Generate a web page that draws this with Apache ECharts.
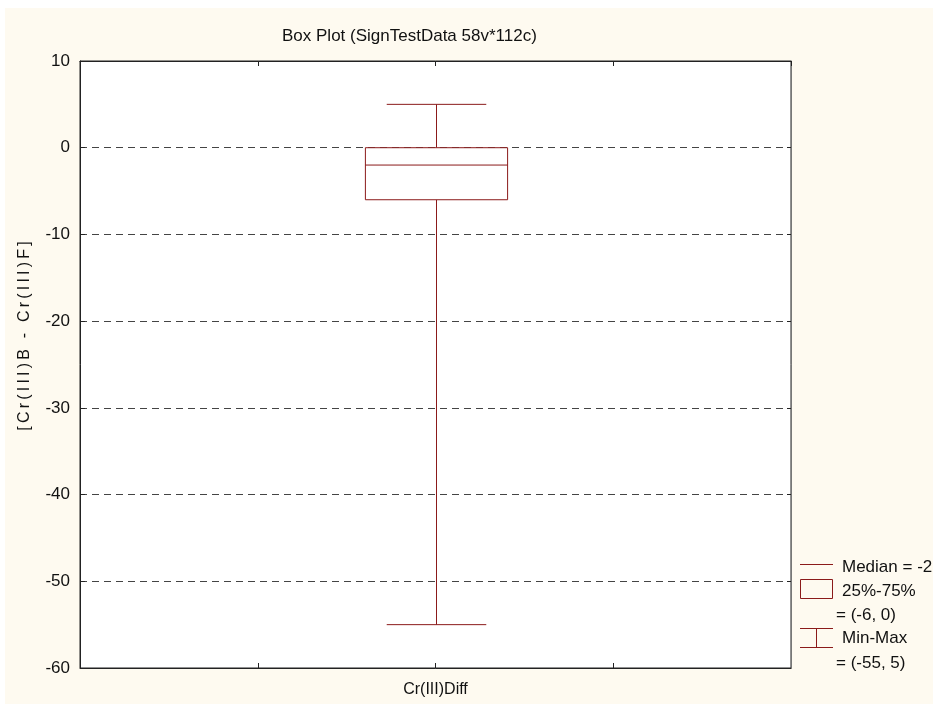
<!DOCTYPE html>
<html><head><meta charset="utf-8">
<script src="https://cdn.jsdelivr.net/npm/echarts@6/dist/echarts.min.js"></script>
<style>html,body{margin:0;padding:0;background:#fff}#c{width:933px;height:704px}</style>
</head><body><div id="c"></div>
<script>
const chartTitle = 'Box Plot (SignTestData 58v*112c)';
const categories = ['Cr(III)Diff'];
const minValues = [-55];
const q1Values = [-6];
const medianValues = [-2];
const q3Values = [0];
const maxValues = [5];
const yTickValues = [-60, -50, -40, -30, -20, -10, 0, 10];
const yAxisTitle = '[Cr(III)B - Cr(III)F]';
const legendLabels = ['Median = ' + medianValues[0], '25%-75%', '= (' + q1Values[0] + ', ' + q3Values[0] + ')', 'Min-Max', '= (' + minValues[0] + ', ' + maxValues[0] + ')'];

const RED = '#8b1a1a';
const CREAM = '#fefaf0';
const FONT = '"Liberation Sans", Arial, sans-serif';
const spaced = s => s.split('').join('\u2009');

// x slot: the single category sits in the middle of a 0..4 axis
const boxData = categories.map((c, i) => [2 + i, minValues[i], q1Values[i], medianValues[i], q3Values[i], maxValues[i]]);

const chart = echarts.init(document.getElementById('c'));
chart.setOption({
  backgroundColor: CREAM,
  animation: false,
  title: {
    text: chartTitle, left: 277, top: 23,
    textStyle: { fontFamily: FONT, fontSize: 17, fontWeight: 'normal', color: '#111' }
  },
  grid: { left: 80, right: 142, top: 61, bottom: 36, show: true, backgroundColor: '#fff', borderColor: '#222', borderWidth: 1 },
  xAxis: [{
    type: 'value', min: 0, max: 4, interval: 1, position: 'bottom',
    axisLine: { show: true, onZero: false, lineStyle: { color: '#222' } },
    axisTick: { show: true, inside: true, length: 5, lineStyle: { color: '#222' } },
    splitLine: { show: false },
    axisLabel: {
      showMinLabel: false, showMaxLabel: false, margin: 14,
      fontFamily: FONT, fontSize: 16, color: '#111',
      formatter: v => (v >= 2 && v - 2 < categories.length && Number.isInteger(v)) ? categories[v - 2] : ''
    }
  }, {
    type: 'value', min: 0, max: 4, interval: 1, position: 'top',
    axisLine: { show: true, onZero: false, lineStyle: { color: '#222' } },
    axisTick: { show: true, inside: true, length: 5, lineStyle: { color: '#222' } },
    splitLine: { show: false }, axisLabel: { show: false }
  }],
  yAxis: [{
    type: 'value', min: yTickValues[0], max: yTickValues[yTickValues.length - 1], interval: 10,
    axisLine: { show: true, onZero: false, lineStyle: { color: '#222' } },
    axisTick: { show: true, inside: true, length: 5, lineStyle: { color: '#222' } },
    splitLine: { show: true, showMinLine: false, showMaxLine: false, lineStyle: { color: '#444', type: [7, 5], width: 1 } },
    axisLabel: { margin: 10, fontFamily: FONT, fontSize: 17, color: '#111' }
  }, {
    type: 'value', position: 'right', min: yTickValues[0], max: yTickValues[yTickValues.length - 1], interval: 10,
    axisLine: { show: true, onZero: false, lineStyle: { color: '#777' } },
    axisTick: { show: true, inside: true, length: 4, lineStyle: { color: '#222' } },
    splitLine: { show: false }, axisLabel: { show: false }
  }],
  series: [{
    type: 'custom',
    xAxisIndex: 0, yAxisIndex: 0,
    data: boxData,
    renderItem: function (params, api) {
      const x = api.value(0);
      const pMin = api.coord([x, api.value(1)]);
      const pQ1 = api.coord([x, api.value(2)]);
      const pMed = api.coord([x, api.value(3)]);
      const pQ3 = api.coord([x, api.value(4)]);
      const pMax = api.coord([x, api.value(5)]);
      const unit = api.size([1, 0])[0];
      const bw = unit * 0.8, cw = unit * 0.56;
      const cx = Math.round(pMed[0]) + 0.5;
      const st = { stroke: RED, lineWidth: 1, fill: null };
      return {
        type: 'group',
        children: [
          { type: 'line', shape: { x1: cx, y1: pMax[1], x2: cx, y2: pQ3[1] }, style: st },
          { type: 'line', shape: { x1: cx, y1: pQ1[1], x2: cx, y2: pMin[1] }, style: st },
          { type: 'line', shape: { x1: cx - cw / 2, y1: pMax[1], x2: cx + cw / 2, y2: pMax[1] }, style: st },
          { type: 'line', shape: { x1: cx - cw / 2, y1: pMin[1], x2: cx + cw / 2, y2: pMin[1] }, style: st },
          { type: 'rect', shape: { x: cx - bw / 2, y: pQ3[1], width: bw, height: pQ1[1] - pQ3[1] }, style: { stroke: RED, lineWidth: 1, fill: '#fff' } },
          { type: 'line', shape: { x1: cx - bw / 2, y1: pMed[1], x2: cx + bw / 2, y2: pMed[1] }, style: st }
        ]
      };
    }
  }],
  graphic: [
    { type: 'rect', shape: { x: 0, y: 0, width: 933, height: 8 }, style: { fill: '#fff' }, silent: true },
    { type: 'rect', shape: { x: 0, y: 0, width: 5, height: 704 }, style: { fill: '#fff' }, silent: true },
    { type: 'text', x: 25, y: 336, rotation: Math.PI / 2,
      style: { text: spaced(yAxisTitle), fontFamily: FONT, fontSize: 16, fill: '#111', align: 'center', verticalAlign: 'middle' } },
    // legend
    { type: 'line', shape: { x1: 800, y1: 564.5, x2: 833, y2: 564.5 }, style: { stroke: RED, lineWidth: 1 } },
    { type: 'rect', shape: { x: 800.5, y: 579.5, width: 32, height: 19 }, style: { stroke: RED, lineWidth: 1, fill: 'none' } },
    { type: 'line', shape: { x1: 800, y1: 628.5, x2: 833, y2: 628.5 }, style: { stroke: RED, lineWidth: 1 } },
    { type: 'line', shape: { x1: 800, y1: 647.5, x2: 833, y2: 647.5 }, style: { stroke: RED, lineWidth: 1 } },
    { type: 'line', shape: { x1: 816.5, y1: 628, x2: 816.5, y2: 647 }, style: { stroke: RED, lineWidth: 1 } },
    { type: 'text', x: 842, y: 567, style: { text: legendLabels[0], fontFamily: FONT, fontSize: 17, fill: '#111', verticalAlign: 'middle' } },
    { type: 'text', x: 842, y: 591, style: { text: legendLabels[1], fontFamily: FONT, fontSize: 17, fill: '#111', verticalAlign: 'middle' } },
    { type: 'text', x: 836, y: 615, style: { text: legendLabels[2], fontFamily: FONT, fontSize: 17, fill: '#111', verticalAlign: 'middle' } },
    { type: 'text', x: 842, y: 638, style: { text: legendLabels[3], fontFamily: FONT, fontSize: 17, fill: '#111', verticalAlign: 'middle' } },
    { type: 'text', x: 836, y: 663, style: { text: legendLabels[4], fontFamily: FONT, fontSize: 17, fill: '#111', verticalAlign: 'middle' } }
  ]
});
</script></body></html>
